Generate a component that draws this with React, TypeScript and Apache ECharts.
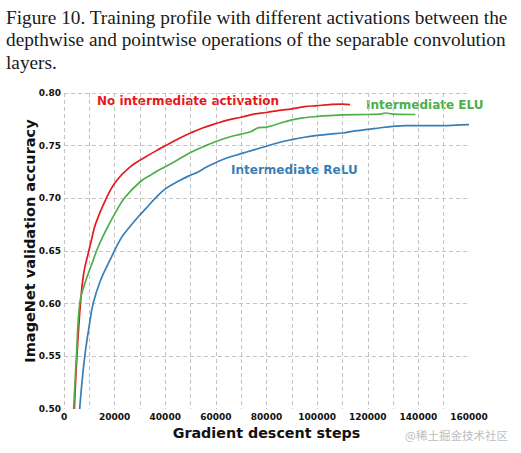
import React, { useEffect, useRef } from "react";
import * as echarts from "echarts";

const captionLines = [
  "Figure 10. Training profile with different activations between the",
  "depthwise and pointwise operations of the separable convolution",
  "layers.",
];

const xTitle = "Gradient descent steps";
const yTitle = "ImageNet validation accuracy";
const seriesNames = ["No intermediate activation", "Intermediate ELU", "Intermediate ReLU"];
const seriesColors = ["#e41a1c", "#4daf4a", "#377eb8"];

const noActSteps = [4100, 5100, 6500, 7800, 9800, 10800, 12500, 16700, 20500, 26000, 32000, 38500, 40000, 46000, 50000, 55000, 60000, 65000, 70000, 75000, 80000, 85000, 90000, 95000, 100000, 105000, 110000, 113000];
const noActAcc = [0.5, 0.55, 0.6, 0.629, 0.65, 0.66, 0.676, 0.7, 0.716, 0.7297, 0.739, 0.748, 0.75, 0.7575, 0.762, 0.767, 0.771, 0.7745, 0.777, 0.78, 0.7815, 0.7835, 0.785, 0.787, 0.788, 0.789, 0.7895, 0.789];

const eluSteps = [3800, 4900, 6200, 8200, 11500, 13000, 15200, 17500, 20000, 23800, 30000, 34500, 37500, 40000, 44500, 50000, 55000, 60000, 65000, 70000, 74000, 77000, 80000, 85000, 90000, 95000, 100000, 110000, 120000, 125000, 127000, 130000, 138800];
const eluAcc = [0.5, 0.55, 0.6, 0.619, 0.641, 0.651, 0.663, 0.674, 0.685, 0.7, 0.7155, 0.7225, 0.727, 0.73, 0.736, 0.7435, 0.749, 0.754, 0.758, 0.761, 0.7635, 0.7672, 0.7676, 0.771, 0.7745, 0.7765, 0.7777, 0.7793, 0.7796, 0.78, 0.781, 0.78, 0.7796];

const reluSteps = [6200, 6900, 8200, 9900, 11500, 14400, 18100, 22500, 26000, 29500, 32600, 36000, 40000, 45700, 50000, 53000, 56500, 60000, 64000, 70000, 75000, 80000, 85000, 90000, 95000, 100000, 105000, 110000, 115000, 120000, 125000, 130000, 135000, 140000, 145000, 150000, 155000, 160000];
const reluAcc = [0.5, 0.52, 0.55, 0.578, 0.6, 0.622, 0.641, 0.662, 0.673, 0.683, 0.691, 0.7, 0.709, 0.717, 0.722, 0.725, 0.73, 0.734, 0.738, 0.7424, 0.746, 0.7495, 0.753, 0.7557, 0.758, 0.7597, 0.761, 0.762, 0.764, 0.7654, 0.767, 0.7683, 0.769, 0.769, 0.769, 0.769, 0.7695, 0.77];

const xMin = 0;
const xMax = 160000;
const xStep = 10000;
const xLabelStep = 20000;
const yMin = 0.5;
const yMax = 0.8;
const yStep = 0.05;

const zip = (xs: number[], ys: number[]) => xs.map((x, i) => [x, ys[i]]);

export default function App() {
  const ref = useRef<HTMLDivElement>(null);
  useEffect(() => {
    document.body.style.margin = "0";
    const chart = echarts.init(ref.current!, null, { renderer: "svg" });
    const sans = "DejaVu Sans";
    const gridLine = { show: true, lineStyle: { color: "#bdbdbd", type: [4, 3] as any, width: 0.9 } };
    const data = [zip(noActSteps, noActAcc), zip(eluSteps, eluAcc), zip(reluSteps, reluAcc)];
    chart.setOption({
      animation: false,
      backgroundColor: "#ffffff",
      grid: { left: 64, right: 52, top: 93, bottom: 44, containLabel: false },
      xAxis: {
        type: "value",
        min: xMin,
        max: xMax,
        interval: xStep,
        axisLine: { show: false },
        axisTick: { show: false },
        splitLine: { ...gridLine, showMaxLine: false },
        axisLabel: {
          margin: 3,
          fontFamily: sans,
          fontWeight: "bold",
          fontSize: 9,
          color: "#111",
          formatter: (v: number) => (v % xLabelStep === 0 ? String(v) : ""),
        },
      },
      yAxis: {
        type: "value",
        min: yMin,
        max: yMax,
        interval: yStep,
        axisLine: { show: false },
        axisTick: { show: false },
        splitLine: { ...gridLine, showMinLine: false },
        axisLabel: {
          margin: 3,
          fontFamily: sans,
          fontWeight: "bold",
          fontSize: 9,
          color: "#111",
          formatter: (v: number) => v.toFixed(2),
        },
      },
      series: data.map((d, i) => ({
        type: "line",
        name: seriesNames[i],
        data: d,
        showSymbol: false,
        smooth: 0.4,
        clip: true,
        lineStyle: { color: seriesColors[i], width: 1.7 },
        itemStyle: { color: seriesColors[i] },
      })),
      graphic: [
        ...captionLines.map((t, i) => ({
          type: "text",
          x: 6,
          y: 17 + i * 22.5,
          style: { text: t, fontFamily: "Liberation Serif", fontSize: 19.3, fill: "#1a1a1a", verticalAlign: "middle" },
        })),
        {
          type: "text",
          x: 97,
          y: 101,
          style: { text: seriesNames[0], fontFamily: sans, fontWeight: "bold", fontSize: 12, fill: seriesColors[0], verticalAlign: "middle" },
        },
        {
          type: "text",
          x: 366,
          y: 105,
          style: { text: seriesNames[1], fontFamily: sans, fontWeight: "bold", fontSize: 12, fill: seriesColors[1], verticalAlign: "middle" },
        },
        {
          type: "text",
          x: 231,
          y: 170,
          style: { text: seriesNames[2], fontFamily: sans, fontWeight: "bold", fontSize: 12, fill: seriesColors[2], verticalAlign: "middle" },
        },
        {
          type: "text",
          x: 266.5,
          y: 433,
          style: { text: xTitle, fontFamily: sans, fontWeight: "bold", fontSize: 14.3, fill: "#111", align: "center", verticalAlign: "middle" },
        },
        {
          type: "text",
          x: 30,
          y: 241,
          rotation: Math.PI / 2,
          style: { text: yTitle, fontFamily: sans, fontWeight: "bold", fontSize: 14.5, fill: "#111", align: "center", verticalAlign: "middle" },
        },
        {
          type: "text",
          x: 508,
          y: 435,
          style: { text: "@稀土掘金技术社区", fontFamily: "Noto Sans CJK SC", fontSize: 11.5, fill: "#bdbdbd", align: "right", verticalAlign: "middle" },
        },
      ],
    });
    return () => chart.dispose();
  }, []);
  return <div ref={ref} style={{ width: 521, height: 453 }} />;
}
